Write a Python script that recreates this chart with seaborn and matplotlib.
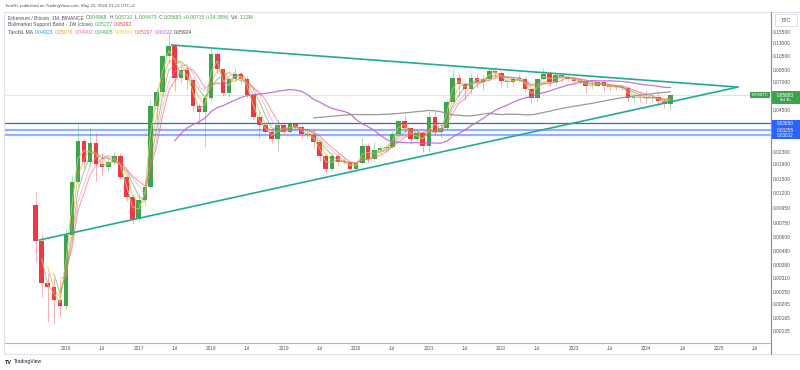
import numpy as np
import pandas as pd
import matplotlib
matplotlib.use('Agg')
import matplotlib.pyplot as plt
import matplotlib.dates as mdates
from matplotlib.patches import Rectangle
from matplotlib.lines import Line2D
from matplotlib.ticker import NullLocator, NullFormatter
import seaborn as sns

W, H = 800, 370

# monthly ETH/BTC candles, Aug 2015 .. May 2024
months = pd.date_range('2015-08-01', '2024-05-01', freq='MS')

opens = [
    0.0099, 0.0056, 0.0029, 0.0027, 0.0022,
    0.0020, 0.0062, 0.0142, 0.0274, 0.0197, 0.0264, 0.0190, 0.0182, 0.0198, 0.0216, 0.0156, 0.0113,
    0.0079, 0.0107, 0.0133, 0.0478, 0.0600, 0.1057, 0.1245, 0.0750, 0.0847, 0.0723, 0.0478, 0.0438,
    0.0543, 0.1100, 0.0857, 0.0585, 0.0738, 0.0792, 0.0738, 0.0569, 0.0401, 0.0354, 0.0318, 0.0282,
    0.0354, 0.0318, 0.0358, 0.0344, 0.0305, 0.0302, 0.0272, 0.0216, 0.0177, 0.0216, 0.0197, 0.0196,
    0.0177, 0.0193, 0.0252, 0.0206, 0.0238, 0.0244, 0.0250, 0.0306, 0.0376, 0.0336, 0.0282, 0.0314,
    0.0252, 0.0399, 0.0318, 0.0336, 0.0512, 0.0750, 0.0675, 0.0622, 0.0750, 0.0705, 0.0732, 0.0834,
    0.0812, 0.0715, 0.0696, 0.0732, 0.0738, 0.0622, 0.0543, 0.0738, 0.0792, 0.0696, 0.0785, 0.0760,
    0.0737, 0.0715, 0.0705, 0.0654, 0.0660, 0.0705, 0.0654, 0.0650, 0.0646, 0.0640, 0.0540, 0.0553,
    0.0548, 0.0540, 0.0553, 0.0515, 0.04968,
]
highs = [
    0.0123, 0.0063, 0.0034, 0.0031, 0.0030,
    0.0068, 0.0160, 0.0360, 0.0290, 0.0345, 0.0310, 0.0225, 0.0215, 0.0235, 0.0225, 0.0160, 0.0118,
    0.0119, 0.0138, 0.0530, 0.0640, 0.1100, 0.1550, 0.1290, 0.0900, 0.0890, 0.0760, 0.0500, 0.0580,
    0.1230, 0.1120, 0.0880, 0.0760, 0.0870, 0.0830, 0.0770, 0.0580, 0.0440, 0.0360, 0.0335, 0.0390,
    0.0365, 0.0375, 0.0365, 0.0355, 0.0330, 0.0330, 0.0280, 0.0220, 0.0225, 0.0228, 0.0210, 0.0200,
    0.0195, 0.0290, 0.0265, 0.0270, 0.0255, 0.0258, 0.0320, 0.0390, 0.0415, 0.0345, 0.0330, 0.0320,
    0.0440, 0.0445, 0.0350, 0.0530, 0.0860, 0.0800, 0.0690, 0.0790, 0.0790, 0.0780, 0.0860, 0.0890,
    0.0830, 0.0740, 0.0760, 0.0790, 0.0770, 0.0640, 0.0750, 0.0880, 0.0830, 0.0800, 0.0800, 0.0770,
    0.0760, 0.0735, 0.0720, 0.0700, 0.0715, 0.0710, 0.0670, 0.0660, 0.0660, 0.0645, 0.0580, 0.0600,
    0.0615, 0.0580, 0.0590, 0.0535, 0.05710,
]
lows = [
    0.0040, 0.0023, 0.00155, 0.0015, 0.0017,
    0.0019, 0.0058, 0.0135, 0.0180, 0.0182, 0.0145, 0.0160, 0.0168, 0.0190, 0.0150, 0.0105, 0.0073,
    0.0076, 0.0100, 0.0128, 0.0380, 0.0560, 0.0950, 0.0610, 0.0690, 0.0620, 0.0440, 0.0360, 0.0250,
    0.0530, 0.0790, 0.0560, 0.0550, 0.0700, 0.0680, 0.0540, 0.0385, 0.0290, 0.0310, 0.0265, 0.0235,
    0.0305, 0.0310, 0.0330, 0.0290, 0.0285, 0.0240, 0.0200, 0.0165, 0.0170, 0.0185, 0.0190, 0.0172,
    0.0170, 0.0190, 0.0195, 0.0200, 0.0225, 0.0238, 0.0245, 0.0300, 0.0310, 0.0260, 0.0270, 0.0230,
    0.0235, 0.0300, 0.0290, 0.0325, 0.0500, 0.0550, 0.0530, 0.0580, 0.0640, 0.0620, 0.0710, 0.0750,
    0.0640, 0.0640, 0.0660, 0.0700, 0.0600, 0.0490, 0.0520, 0.0720, 0.0660, 0.0660, 0.0700, 0.0710,
    0.0680, 0.0680, 0.0590, 0.0630, 0.0650, 0.0600, 0.0610, 0.0620, 0.0615, 0.0520, 0.0510, 0.0510,
    0.0505, 0.0510, 0.0480, 0.0460, 0.04473,
]
closes = [
    0.0056, 0.0029, 0.0027, 0.0022, 0.0020,
    0.0062, 0.0142, 0.0274, 0.0197, 0.0264, 0.0190, 0.0182, 0.0198, 0.0216, 0.0156, 0.0113, 0.0079,
    0.0107, 0.0133, 0.0478, 0.0600, 0.1057, 0.1245, 0.0750, 0.0847, 0.0723, 0.0478, 0.0438, 0.0543,
    0.1100, 0.0857, 0.0585, 0.0738, 0.0792, 0.0738, 0.0569, 0.0401, 0.0354, 0.0318, 0.0282, 0.0354,
    0.0318, 0.0358, 0.0344, 0.0305, 0.0302, 0.0272, 0.0216, 0.0177, 0.0216, 0.0197, 0.0196, 0.0177,
    0.0193, 0.0252, 0.0206, 0.0238, 0.0244, 0.0250, 0.0306, 0.0376, 0.0336, 0.0282, 0.0314, 0.0252,
    0.0399, 0.0318, 0.0336, 0.0512, 0.0750, 0.0675, 0.0622, 0.0750, 0.0705, 0.0732, 0.0834, 0.0812,
    0.0715, 0.0696, 0.0732, 0.0738, 0.0622, 0.0543, 0.0738, 0.0792, 0.0696, 0.0785, 0.0760, 0.0737,
    0.0715, 0.0705, 0.0654, 0.0660, 0.0705, 0.0654, 0.0650, 0.0646, 0.0640, 0.0540, 0.0553, 0.0548,
    0.0540, 0.0553, 0.0515, 0.0497, 0.05683,
]

# moving averages (length, colour) of the TaroNL MA script
ma_specs = [(2, '#2196f3'), (2, '#ffeb3b'), (3, '#ff9800'), (4, '#4caf50'),
            (5, '#f48fb1'), (6, '#f7525f')]
ma_long = [(24, '#b968d6'), (47, '#8f8f8f')]

# drawn trendlines and horizontal levels
upper_line_dates = ['2017-06-15', '2025-04-06']
upper_line_prices = [0.1260, 0.0646]
lower_line_dates = ['2015-08-19', '2025-04-06']
lower_line_prices = [0.00569, 0.0646]
levels = [0.03650, 0.03255, 0.03002]

price_ticks = [0.155, 0.13, 0.105, 0.085, 0.07, 0.045, 0.023, 0.019, 0.015, 0.012,
               0.0095, 0.0075, 0.006, 0.0048, 0.0038, 0.0031, 0.0025, 0.00205,
               0.00165, 0.00135]
years = list(range(2016, 2026))

GREEN = '#3fa34d'
RED = '#f23645'

sns.set_style('white')
plt.rcParams['font.family'] = ['Liberation Sans', 'DejaVu Sans']


def fx(px):
    return px / W


def fy(py):
    return 1 - py / H


fig = plt.figure(figsize=(8, 3.7), dpi=100)
fig.patch.set_facecolor('white')
ax = fig.add_axes([fx(4), fy(343), fx(771) - fx(4), fy(12) - fy(343)])
ax.set_facecolor('white')
ax.set_yscale('log')
ax.set_ylim(0.00111, 0.2128)
x0 = mdates.date2num(pd.Timestamp('2016-01-01'))
x1 = mdates.date2num(pd.Timestamp('2025-01-01'))
ppd = (719 - 66) / (x1 - x0)
ax.set_xlim(x0 - (66 - 4) / ppd, x1 + (771 - 719) / ppd)

df = pd.DataFrame({'date': months, 'open': opens, 'high': highs,
                   'low': lows, 'close': closes})
up = df['close'] >= df['open']
cols = np.where(up, GREEN, RED)
ax.vlines(df['date'], df['low'], df['high'], colors=cols, linewidth=0.6,
          alpha=0.45, zorder=2)
lo = np.minimum(df['open'], df['close'])
hi = np.maximum(df['open'], df['close'])
ax.bar(df['date'], np.maximum(hi - lo, lo * 0.012), bottom=lo, width=23,
       color=cols, linewidth=0, zorder=3)

for n, c in ma_specs:
    ma = df['close'].rolling(n).mean()
    sns.lineplot(x=df['date'], y=ma, ax=ax, color=c, linewidth=0.7,
                 alpha=0.6, legend=False, zorder=4)
for n, c in ma_long:
    ma = df['close'].rolling(n).mean()
    sns.lineplot(x=df['date'], y=ma, ax=ax, color=c, linewidth=0.9,
                 alpha=0.9, legend=False, zorder=4)

sns.lineplot(x=pd.to_datetime(upper_line_dates), y=upper_line_prices, ax=ax,
             color='#22ab94', linewidth=1.2, legend=False, zorder=5)
sns.lineplot(x=pd.to_datetime(lower_line_dates), y=lower_line_prices, ax=ax,
             color='#22ab94', linewidth=1.2, legend=False, zorder=5)

for i, lv in enumerate(levels):
    if i == 0:
        ax.axhline(lv, color='#2962ff', linewidth=0.9, zorder=1)
    else:
        ax.axhline(lv, color='#2962ff', linewidth=1.6, alpha=0.5, zorder=1)
ax.axhline(closes[-1], color=GREEN, linewidth=0.8, alpha=0.2, zorder=1)

ax.set_xlabel('')
ax.set_ylabel('')
ax.yaxis.tick_right()
ax.set_yticks(price_ticks)
ax.yaxis.set_minor_locator(NullLocator())
ax.yaxis.set_minor_formatter(NullFormatter())
ax.set_yticklabels([f'{v:.5f}' for v in price_ticks])
ax.tick_params(axis='y', length=0, pad=1.5, labelsize=3.5, labelcolor='#50535e')
xt, xl = [], []
for yr in years:
    xt += [pd.Timestamp(f'{yr}-01-01'), pd.Timestamp(f'{yr}-07-01')]
    xl += [str(yr), 'Jul']
ax.set_xticks(xt)
ax.set_xticklabels(xl)
ax.xaxis.set_minor_locator(NullLocator())
ax.tick_params(axis='x', length=0, pad=2, labelsize=3.4, labelcolor='#50535e')
for s in ['top', 'left', 'right']:
    ax.spines[s].set_visible(False)
ax.spines['bottom'].set_color('#b2b5be')
ax.spines['bottom'].set_linewidth(0.8)
ax.grid(False)

# frame lines
fig.add_artist(Line2D([fx(4), fx(800)], [fy(12), fy(12)], color='#e0e3eb', lw=0.8))
fig.add_artist(Line2D([fx(4), fx(4)], [fy(12), fy(354)], color='#e0e3eb', lw=0.8))
fig.add_artist(Line2D([fx(4), fx(800)], [fy(354), fy(354)], color='#e0e3eb', lw=0.8))
fig.add_artist(Line2D([fx(771), fx(771)], [fy(12), fy(354)], color='#8a8d96', lw=0.8))


def py_of(price):
    return H - ax.transData.transform((ax.get_xlim()[0], price))[1]


# level labels on the price scale
top = py_of(levels[0]) - 3.2
bot = py_of(levels[-1]) + 3.2
fig.add_artist(Rectangle((fx(771.5), fy(bot)), fx(800) - fx(771.5), (bot - top) / H,
                         transform=fig.transFigure, facecolor='#2962ff', edgecolor='none'))
for lv in levels:
    fig.text(fx(785.5), fy(py_of(lv)), f'{lv:.5f}', color='white', fontsize=3.4,
             ha='center', va='center')

# last price label
pp = py_of(closes[-1])
fig.add_artist(Rectangle((fx(771.5), fy(pp + 8.5)), fx(800) - fx(771.5), 12.5 / H,
                         transform=fig.transFigure, facecolor=GREEN, edgecolor='none'))
fig.text(fx(785.5), fy(pp), f'{closes[-1]:.5f}', color='white', fontsize=3.4,
         ha='center', va='center')
fig.text(fx(785.5), fy(pp + 5.3), '8d 3h', color='white', fontsize=3.2,
         ha='center', va='center')
fig.add_artist(Rectangle((fx(750), fy(pp + 3.3)), fx(770) - fx(750), 6.6 / H,
                         transform=fig.transFigure, facecolor=GREEN, edgecolor='none'))
fig.text(fx(760), fy(pp), 'ETHBTC', color='white', fontsize=3.0,
         ha='center', va='center')

# currency box
fig.add_artist(Rectangle((fx(775), fy(26)), fx(797) - fx(775), 12 / H,
                         transform=fig.transFigure, facecolor='white',
                         edgecolor='#d1d4dc', lw=0.5))
fig.text(fx(786), fy(20), 'BTC', color='#50535e', fontsize=3.3, ha='center', va='center')

renderer = fig.canvas.get_renderer()


def text_run(x, y, parts, size):
    for s, c in parts:
        t = fig.text(fx(x), fy(y), s, color=c, fontsize=size, ha='left', va='center')
        x += t.get_window_extent(renderer=renderer).width + 1.6


fig.text(fx(5), fy(6), 'TaroNL published on TradingView.com, May 23, 2024 23:12 UTC+2',
         color='#50535e', fontsize=3.2, ha='left', va='center')
DARK = '#50535e'
text_run(8, 17.5, [('Ethereum / Bitcoin, 1M, BINANCE', DARK), ('O', DARK)], 3.6)
line1 = fig.texts[-1].get_window_extent(renderer=renderer).x1
text_run(line1, 17.5, [('0.04968', GREEN), ('H', DARK), ('0.05710', GREEN),
                            ('L', DARK), ('0.04473', GREEN), ('C', DARK),
                            ('0.05683', GREEN), ('+0.00715 (+14.39%)', GREEN),
                            ('Vol', DARK), ('1.13M', GREEN)], 3.6)
text_run(8, 24.5, [('Bullmarket Support Band - 1W (close)', DARK),
                   ('0.05237', '#4caf50'), ('0.05292', RED)], 3.6)
text_run(8, 32, [('TaroNL MA', DARK), ('0.04923', '#2196f3'), ('0.05076', '#ff9800'),
                 ('0.04902', '#e56fa8'), ('0.04905', '#4caf50'), ('0.05166', '#f2d600'),
                 ('0.05297', '#f7525f'), ('0.06322', '#b968d6'), ('0.05924', '#444444')], 3.6)

# logo
fig.text(fx(5), fy(362), 'TV', color='#131722', fontsize=4.0, fontweight='bold',
         ha='left', va='center')
fig.text(fx(14), fy(362), 'TradingView', color='#131722', fontsize=3.6,
         ha='left', va='center')

fig.savefig('out.png', dpi=100, facecolor='white')
